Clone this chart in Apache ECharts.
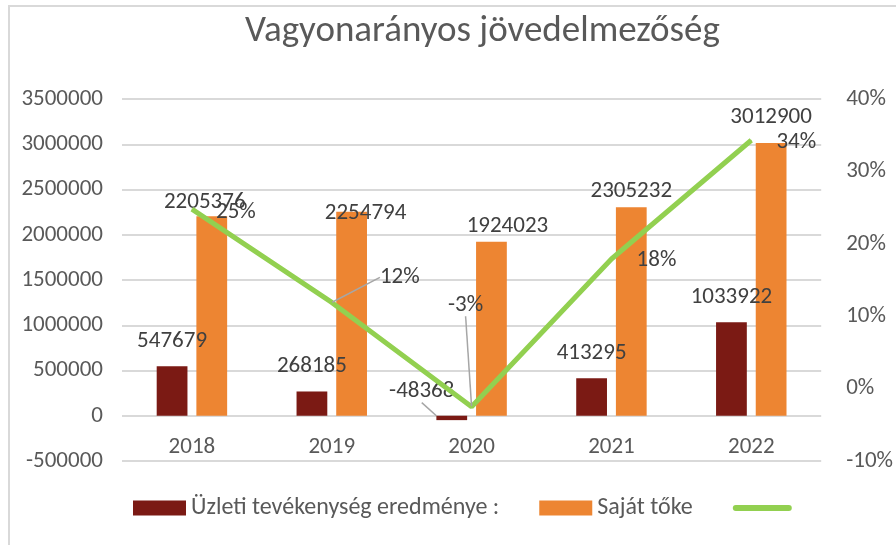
<!DOCTYPE html>
<html>
<head>
<meta charset="utf-8">
<script src="https://cdn.jsdelivr.net/npm/echarts@6/dist/echarts.min.js"></script>
<style>
  html, body { margin: 0; padding: 0; background: #fff; }
  #chart { width: 896px; height: 545px; }
</style>
</head>
<body>
<div id="chart"></div>
<script>
// adatok
const years = ['2018', '2019', '2020', '2021', '2022']
const eredmeny = [547679, 268185, -48368, 413295, 1033922]
const sajatToke = [2205376, 2254794, 1924023, 2305232, 3012900]
const arany = [0.248, 0.119, -0.0251, 0.179, 0.343]

// címkék eltolása (a oszlop végéhez / ponthoz képest)
const eredmenyOff = [[0, -25], [0, -25], [-30, -29], [0, -25], [0, -25]]
const tokeOff = [[-7, -14], [14, 2], [16, -15], [0, -16], [0, -26]]
const aranyOff = [[44, 3], [68, -25], [-6, -102], [45, 1], [45, 2]]
const eredmenyGuide = [2]
const aranyGuide = [1, 2]

const font = 'Carlito, Lato, sans-serif'
const labelStyle = { color: '#404040', fontSize: 23, fontFamily: font }

function barLayout(values, offs) {
  return function (p) {
    const r = p.rect
    const v = values[p.dataIndex]
    const endY = v >= 0 ? r.y : r.y + r.height
    const o = offs[p.dataIndex]
    return { x: r.x + r.width / 2 + o[0], y: endY + o[1], align: 'center', verticalAlign: 'middle' }
  }
}
function pointLayout(offs) {
  return function (p) {
    const r = p.rect
    const o = offs[p.dataIndex]
    return { x: r.x + r.width / 2 + o[0], y: r.y + r.height / 2 + o[1], align: 'center', verticalAlign: 'middle' }
  }
}
function withGuides(values, guides) {
  return values.map((v, i) => ({ value: v, labelLine: { show: guides.includes(i) } }))
}

const chart = echarts.init(document.getElementById('chart'))
chart.setOption({
  animation: false,
  title: {
    text: 'Vagyonarányos jövedelmezőség',
    left: 245,
    top: 13,
    padding: 0,
    textStyle: { color: '#595959', fontSize: 37, fontWeight: 'normal', fontFamily: font }
  },
  graphic: [{
    type: 'rect',
    shape: { x: 9, y: 6, width: 1000, height: 1000 },
    style: { fill: 'none', stroke: '#d9d9d9', lineWidth: 2 },
    silent: true
  }],
  legend: {
    left: 133,
    top: 496,
    padding: 0,
    itemWidth: 53,
    itemHeight: 15,
    itemGap: 40,
    textStyle: { color: '#595959', fontSize: 24, fontFamily: font },
    data: [
      { name: 'Üzleti tevékenység eredménye :', icon: 'rect' },
      { name: 'Saját tőke', icon: 'rect' },
      { name: ' ', itemStyle: { opacity: 0 }, lineStyle: { width: 6, cap: 'round' } }
    ]
  },
  grid: { left: 122, right: 70, top: 99, bottom: 84 },
  xAxis: {
    type: 'category',
    data: years,
    axisLine: { show: false },
    axisTick: { show: false },
    axisLabel: { color: '#595959', fontSize: 23, fontFamily: font, margin: -25 }
  },
  yAxis: [
    {
      type: 'value',
      min: -500000,
      max: 3500000,
      interval: 500000,
      axisLine: { show: false },
      axisTick: { show: false },
      axisLabel: { color: '#595959', fontSize: 23, fontFamily: font, margin: 19, formatter: v => String(v) },
      splitLine: { lineStyle: { color: '#d9d9d9', width: 2 } }
    },
    {
      type: 'value',
      min: -0.1,
      max: 0.4,
      interval: 0.1,
      axisLine: { show: false },
      axisTick: { show: false },
      splitLine: { show: false },
      axisLabel: {
        color: '#595959', fontSize: 23, fontFamily: font, margin: 25,
        formatter: v => Math.round(v * 100) + '%'
      }
    }
  ],
  series: [
    {
      name: 'Üzleti tevékenység eredménye :',
      type: 'bar',
      data: withGuides(eredmeny, eredmenyGuide),
      barWidth: '22%',
      barGap: '29%',
      itemStyle: { color: '#7b1a14' },
      label: Object.assign({ show: true, position: 'top' }, labelStyle),
      labelLayout: barLayout(eredmeny, eredmenyOff),
      labelLine: { lineStyle: { color: '#a6a6a6', width: 1.5 } }
    },
    {
      name: 'Saját tőke',
      type: 'bar',
      data: sajatToke,
      barWidth: '22%',
      itemStyle: { color: '#ed8532' },
      label: Object.assign({ show: true, position: 'top' }, labelStyle),
      labelLayout: barLayout(sajatToke, tokeOff)
    },
    {
      name: ' ',
      type: 'line',
      yAxisIndex: 1,
      data: withGuides(arany, aranyGuide),
      symbol: 'circle',
      symbolSize: 1,
      itemStyle: { color: '#92d050' },
      lineStyle: { color: '#92d050', width: 5 },
      label: Object.assign({
        show: true,
        position: 'top',
        formatter: p => (p.value * 100).toFixed(0) + '%'
      }, labelStyle),
      labelLayout: pointLayout(aranyOff),
      labelLine: { lineStyle: { color: '#a6a6a6', width: 1.5 } },
      z: 5
    }
  ]
})
</script>
</body>
</html>
